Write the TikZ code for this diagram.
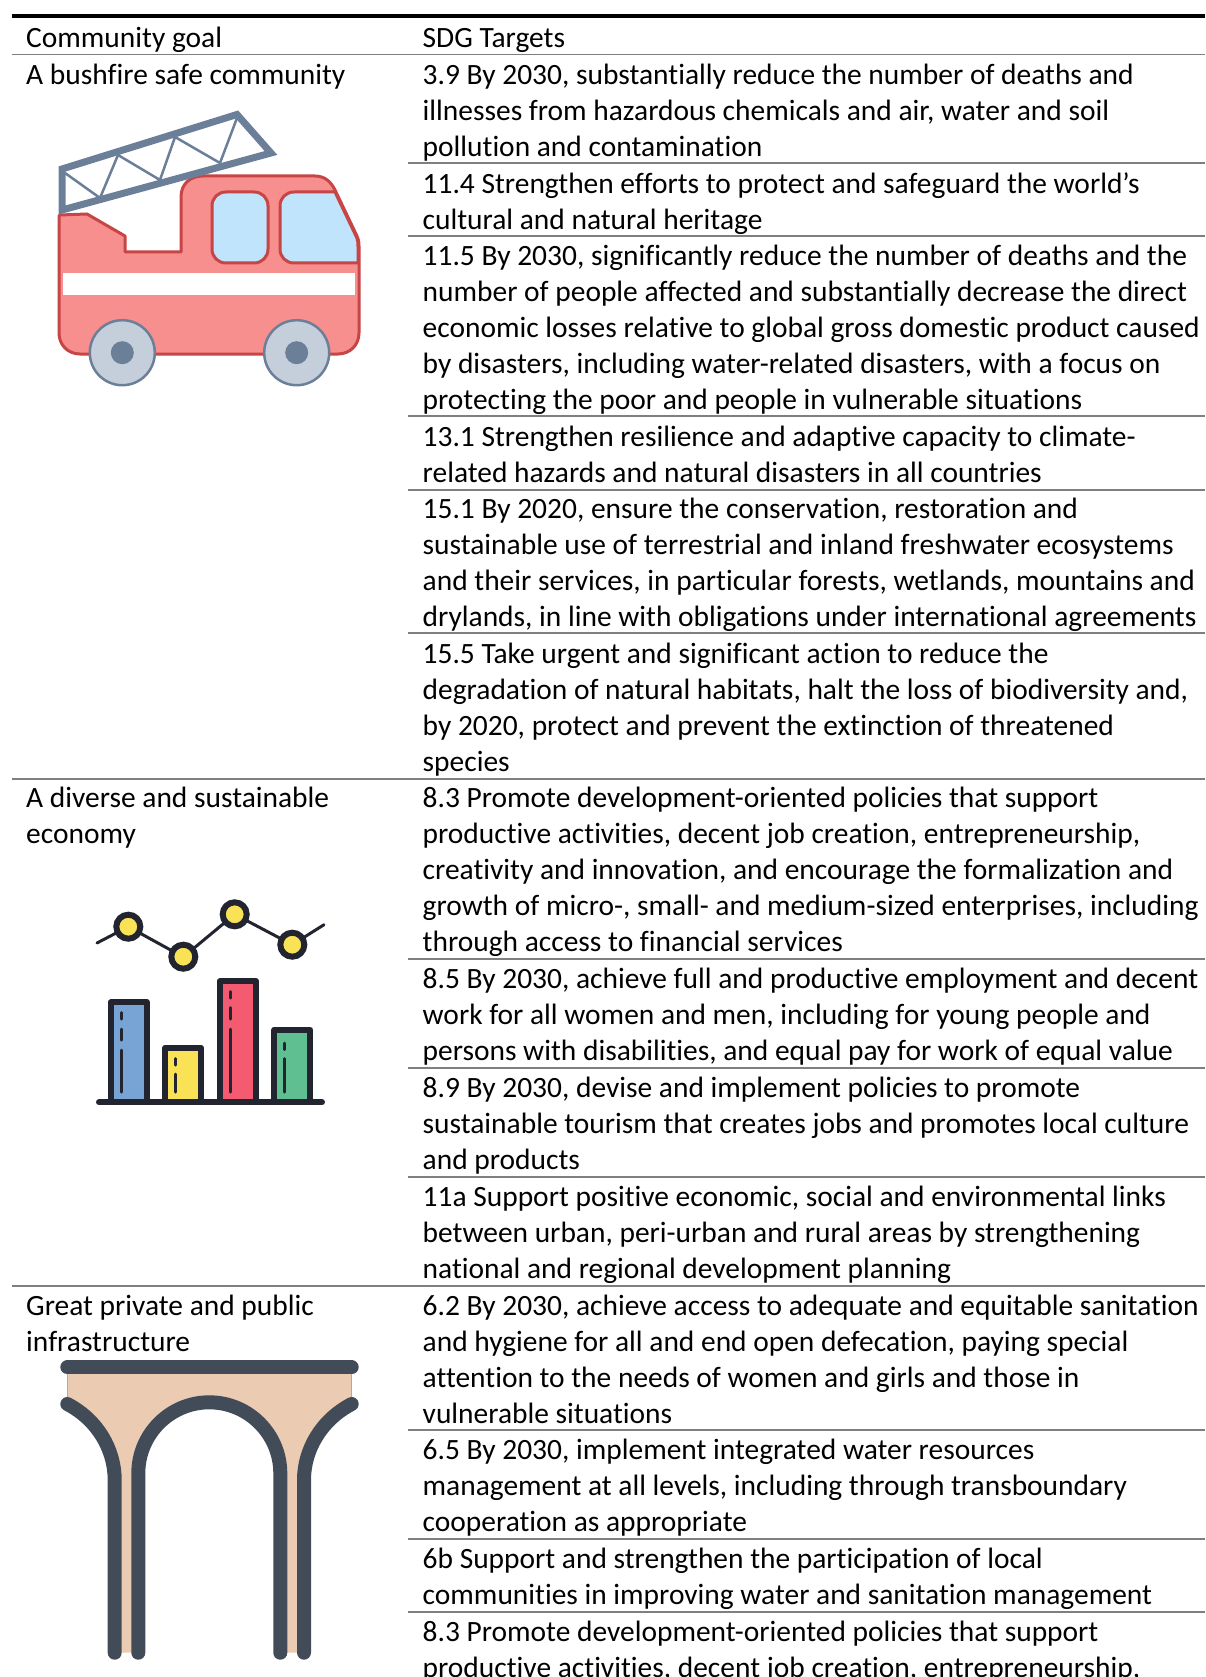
\documentclass[tikz,border=0pt]{standalone}
\usepackage{fontspec}
\setmainfont[Ligatures=NoCommon]{Carlito}
\definecolor{rulegray}{HTML}{7F7F7F}
\definecolor{slate}{HTML}{6B7F99}
\definecolor{wheelfill}{HTML}{C5CFDC}
\definecolor{truckline}{HTML}{C74545}
\definecolor{truckfill}{HTML}{F78F8F}
\definecolor{glass}{HTML}{BFE4FB}
\definecolor{ink}{HTML}{22252F}
\definecolor{cblue}{HTML}{77A3D5}
\definecolor{cyellow}{HTML}{F9E255}
\definecolor{cred}{HTML}{F45A70}
\definecolor{cgreen}{HTML}{5FBF90}
\definecolor{bridgeline}{HTML}{414C58}
\definecolor{bridgefill}{HTML}{EBCBB2}
\definecolor{bridgeedge}{HTML}{B8A898}
\newcommand{\fl}{\leavevmode\rule{0pt}{20pt}}
\tikzset{
  cell/.style={anchor=north west,inner sep=0pt,outer sep=0pt,align=left,xshift=0.7pt,yshift=-2.2pt,font=\fontsize{29.45}{36.0}\selectfont},
  headrule/.style={line width=4.2pt,black},
  tabrule/.style={line width=1.7pt,rulegray},
  truck/.style={draw=truckline,line width=3pt,line join=round},
  wheel/.style={draw=slate,fill=wheelfill,line width=2.5pt},
  bar/.style={draw=ink,line width=6pt,line join=round},
  barmark/.style={draw=ink,line width=3pt,line cap=round},
  arch/.style={draw=bridgeline,line width=14pt,line cap=round}
}
\begin{document}
\begin{tikzpicture}[x=1pt,y=-1pt]
\useasboundingbox (0,0) rectangle (1205,1677);
% table rules
\draw[headrule] (12,16) -- (1205,16);
\foreach \y in {54.5,779,1285.7} \draw[tabrule] (12,\y) -- (1205,\y);
\foreach \y in {163,235.7,416,490,633,959,1067.7,1177,1429.7,1538.7,1611.7} \draw[tabrule] (408,\y) -- (1205,\y);
% first column
\node[cell] (h1) at (25.5,25) {\fl Community goal};
\node[cell] (g1) at (25.5,61.5) {\fl A bushfire safe community};
\node[cell] (g2) at (25.5,785) {\fl A diverse and sustainable\\economy};
\node[cell] (g3) at (25.5,1292.7) {\fl Great private and public\\infrastructure};
% second column
\node[cell] (h2) at (422,25) {\fl SDG Targets};
\node[cell] (t1) at (422,61.5) {\fl 3.9 By 2030, substantially reduce the number of deaths and\\illnesses from hazardous chemicals and air, water and soil\\pollution and contamination};
\node[cell] (t2) at (422,170.5) {\fl 11.4 Strengthen efforts to protect and safeguard the world’s\\cultural and natural heritage};
\node[cell] (t3) at (422,243.2) {\fl 11.5 By 2030, significantly reduce the number of deaths and the\\number of people affected and substantially decrease the direct\\economic losses relative to global gross domestic product caused\\by disasters, including water-related disasters, with a focus on\\protecting the poor and people in vulnerable situations};
\node[cell] (t4) at (422,423.5) {\fl 13.1 Strengthen resilience and adaptive capacity to climate-\\related hazards and natural disasters in all countries};
\node[cell] (t5) at (422,496.3) {\fl 15.1 By 2020, ensure the conservation, restoration and\\sustainable use of terrestrial and inland freshwater ecosystems\\and their services, in particular forests, wetlands, mountains and\\drylands, in line with obligations under international agreements};
\node[cell] (t6) at (422,640.5) {\fl 15.5 Take urgent and significant action to reduce the\\degradation of natural habitats, halt the loss of biodiversity and,\\by 2020, protect and prevent the extinction of threatened\\species};
\node[cell] (t7) at (422,785) {\fl 8.3 Promote development-oriented policies that support\\productive activities, decent job creation, entrepreneurship,\\creativity and innovation, and encourage the formalization and\\growth of micro-, small- and medium-sized enterprises, including\\through access to financial services};
\node[cell] (t8) at (422,966) {\fl 8.5 By 2030, achieve full and productive employment and decent\\work for all women and men, including for young people and\\persons with disabilities, and equal pay for work of equal value};
\node[cell] (t9) at (422,1075) {\fl 8.9 By 2030, devise and implement policies to promote\\sustainable tourism that creates jobs and promotes local culture\\and products};
\node[cell] (t10) at (422,1183.5) {\fl 11a Support positive economic, social and environmental links\\between urban, peri-urban and rural areas by strengthening\\national and regional development planning};
\node[cell] (t11) at (422,1292.7) {\fl 6.2 By 2030, achieve access to adequate and equitable sanitation\\and hygiene for all and end open defecation, paying special\\attention to the needs of women and girls and those in\\vulnerable situations};
\node[cell] (t12) at (422,1437.2) {\fl 6.5 By 2030, implement integrated water resources\\management at all levels, including through transboundary\\cooperation as appropriate};
\node[cell] (t13) at (422,1546.2) {\fl 6b Support and strengthen the participation of local\\communities in improving water and sanitation management};
\node[cell] (t14) at (422,1619.2) {\fl 8.3 Promote development-oriented policies that support\\productive activities, decent job creation, entrepreneurship,};
% fire truck
\draw[truck,fill=truckfill] (60,215) -- (87,214) -- (125,236) -- (125,252) -- (181,252) -- (181,197)
  .. controls (181,184) and (190,176) .. (203,176) -- (315,176)
  .. controls (325,176) and (331,182) .. (335,190) -- (356,234)
  .. controls (358,238) and (359,241) .. (359,246) -- (359,333)
  .. controls (359,345) and (350,354) .. (338,354) -- (80,354)
  .. controls (68,354) and (59,345) .. (59,333) -- (59,216) -- cycle;
\draw[truck,fill=glass] (226,192) -- (254,192) .. controls (262,192) and (268,198) .. (268,206) -- (268,249)
  .. controls (268,257) and (262,263) .. (254,263) -- (226,263)
  .. controls (218,263) and (212,257) .. (212,249) -- (212,206) .. controls (212,198) and (218,192) .. (226,192) -- cycle;
\draw[truck,fill=glass] (294,192) -- (335,192) -- (356,236) .. controls (358,240) and (358,243) .. (358,247) -- (358,263) -- (294,263)
  .. controls (286,263) and (280,257) .. (280,249) -- (280,206) .. controls (280,198) and (286,192) .. (294,192) -- cycle;
\fill[white] (63,273) rectangle (355,295);
\draw[slate,line width=2.5pt,line join=round] (65,173) -- (100,198) -- (118,155) -- (160,180) -- (175,137) -- (220,163) -- (237,118);
\draw[slate,line width=7pt,line join=miter] (62,169) -- (237,114.5) -- (271,153) -- (62,210) -- cycle;
\draw[wheel] (122.3,352.7) circle[radius=32.5];
\draw[wheel] (296.7,352.7) circle[radius=32.5];
\fill[slate] (122.3,352.7) circle[radius=11.5];
\fill[slate] (296.7,352.7) circle[radius=11.5];
% chart
\draw[ink,line width=3pt,line cap=round,line join=round] (97,943) -- (128.3,926.7) -- (183.3,957) -- (234.7,914.3) -- (292.3,944.7) -- (324,924.7);
\foreach \cx/\cy in {128.3/926.7,183.3/956.7,234.7/914.3,292.3/944.7}
  \draw[ink,line width=6pt,fill=cyellow] (\cx,\cy) circle[radius=12];
\draw[bar,fill=cblue] (110.7,1102.3) rectangle (146.7,1002.3);
\draw[bar,fill=cyellow] (165.3,1102.3) rectangle (201.3,1047.7);
\draw[bar,fill=cred] (219.7,1102.3) rectangle (256,981.3);
\draw[bar,fill=cgreen] (274.3,1102.3) rectangle (310.3,1029.7);
\draw[ink,line width=6pt,line cap=round] (99,1102.3) -- (322,1102.3);
\foreach \mx/\ya/\yb in {121/1012.5/1019,121/1029/1040,121/1050/1092,175.7/1058.5/1065,175.7/1074/1092,230/991.5/998,230/1007.5/1019,230/1029/1092,284.7/1043/1049.5,284.7/1058.5/1092}
  \draw[barmark] (\mx,\ya) -- (\mx,\yb);
% bridge
\fill[bridgefill] (67.3,1367) -- (351.7,1367) -- (351.7,1404)
  .. controls (321,1420) and (304,1450) .. (304,1480) -- (304,1652.7) -- (280.3,1652.7) -- (280.3,1473.3)
  arc[start angle=0,end angle=-180,radius=71] -- (138.3,1652.7) -- (114.7,1652.7) -- (114.7,1480)
  .. controls (114.7,1450) and (98,1420) .. (67.3,1404) -- cycle;
\draw[bridgeedge,line width=0.8pt] (67.3,1367) -- (67.3,1404);
\draw[bridgeedge,line width=0.8pt] (351.7,1367) -- (351.7,1404);
\draw[arch] (67.3,1367.3) -- (351.7,1367.3);
\draw[arch] (67.3,1404) .. controls (98,1420) and (114.7,1450) .. (114.7,1480) -- (114.7,1652.7);
\draw[arch] (351.7,1404) .. controls (321,1420) and (304,1450) .. (304,1480) -- (304,1652.7);
\draw[arch] (138.3,1652.7) -- (138.3,1473.3) arc[start angle=180,end angle=360,radius=71] -- (280.3,1652.7);
\end{tikzpicture}
\end{document}
